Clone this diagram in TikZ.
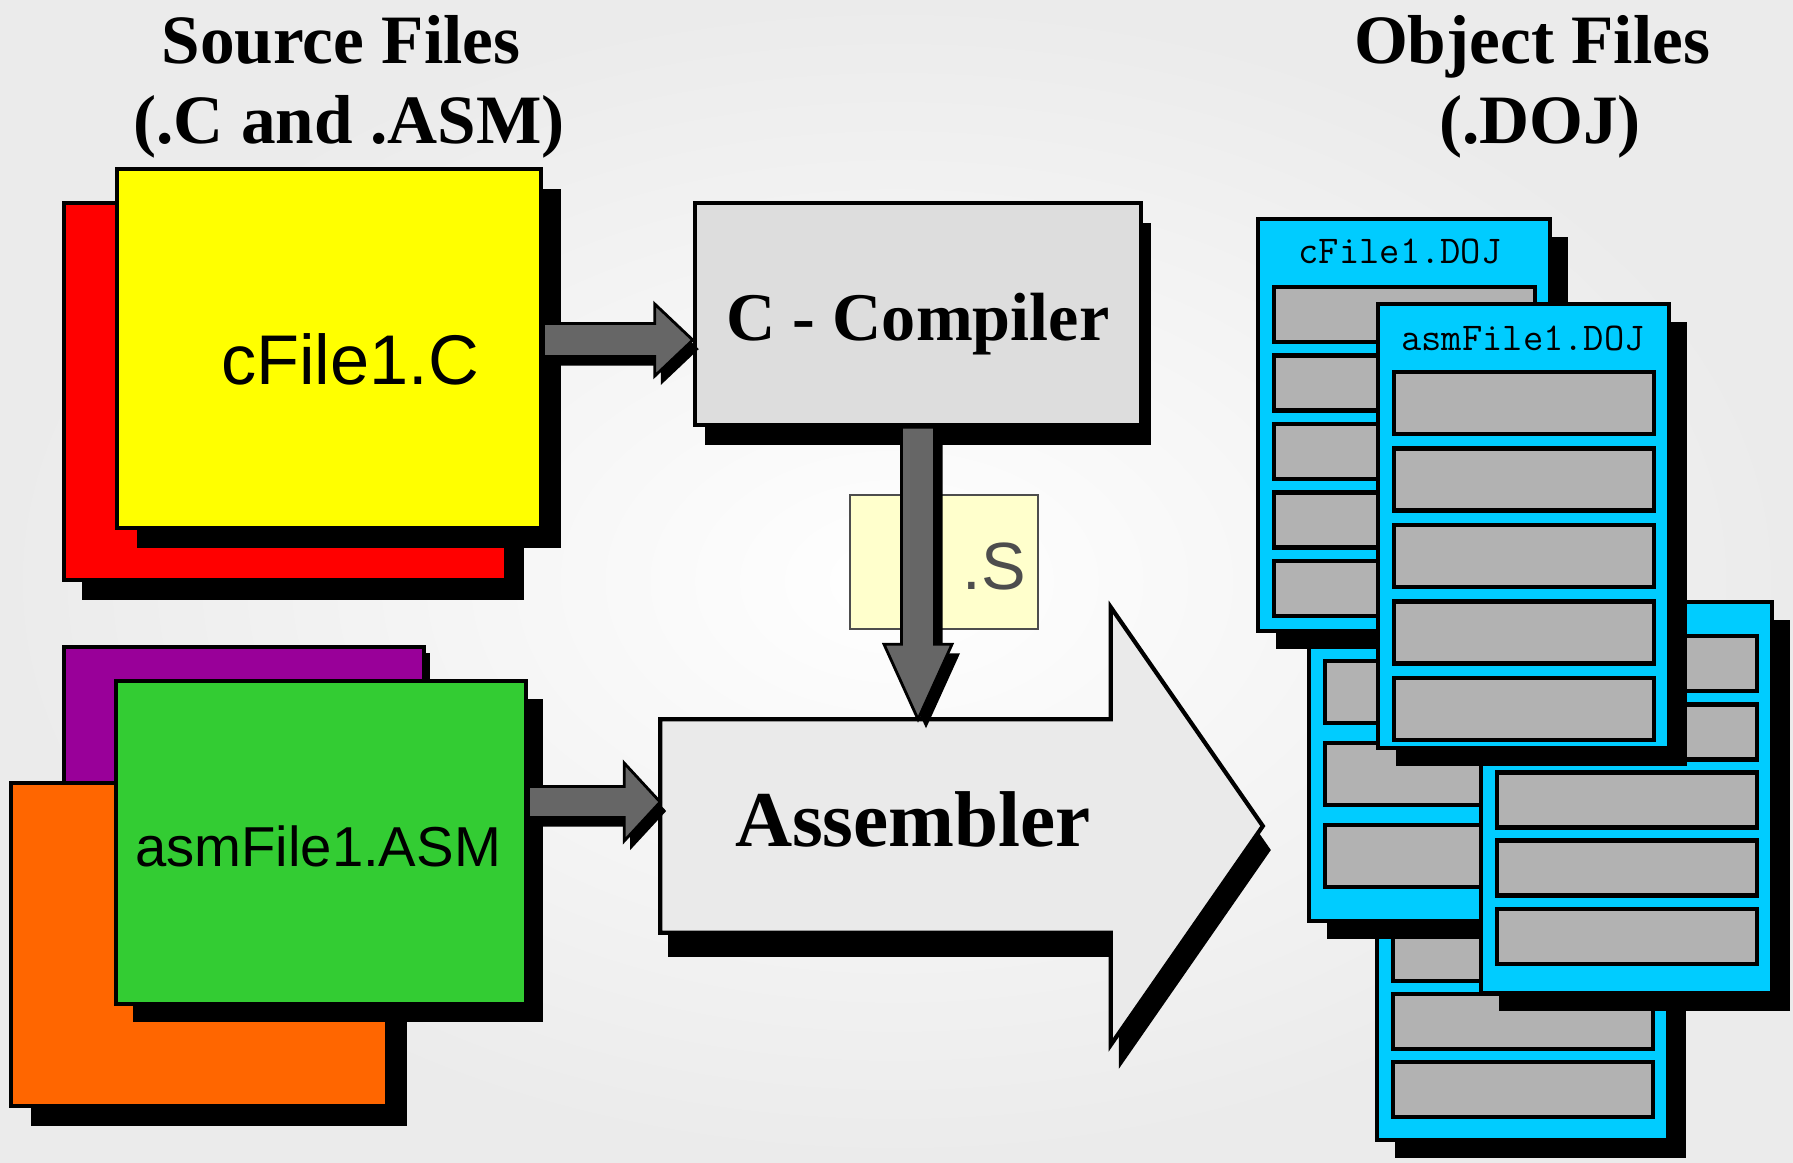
\documentclass[tikz,border=0pt]{standalone}
\usepackage{fontspec}
\setmainfont{Liberation Serif}
\setsansfont{Liberation Sans}
\usetikzlibrary{calc,shadows}

\definecolor{bggray}{HTML}{EBEBEB}
\definecolor{srcyellow}{HTML}{FFFF00}
\definecolor{srcred}{HTML}{FF0000}
\definecolor{srcpurple}{HTML}{990099}
\definecolor{srcorange}{HTML}{FF6600}
\definecolor{srcgreen}{HTML}{33CC33}
\definecolor{compgray}{HTML}{DDDDDD}
\definecolor{asmgray}{HTML}{EAEAEA}
\definecolor{arrowgray}{HTML}{666666}
\definecolor{sfill}{HTML}{FFFFCC}
\definecolor{stext}{HTML}{4D4D4D}
\definecolor{dojcyan}{HTML}{00CCFF}
\definecolor{bargray}{HTML}{B2B2B2}

\tikzset{
	castshadow/.style 2 args={drop shadow={shadow xshift=#1, shadow yshift=#2, opacity=1, fill=black}},
	srcbox/.style={draw=black, line width=1.3pt, inner sep=0pt},
	blockarrow/.style={fill=arrowgray, draw=black, line width=0.8pt, line join=miter},
	headtext/.style={anchor=base, font=\bfseries\fontsize{19.7}{23}\selectfont},
	dojpage/.style={fill=dojcyan, draw=black, line width=1.4pt, castshadow={0.18cm}{-0.18cm}},
	dojbar/.style={fill=bargray, draw=black, line width=1.4pt},
	dojtitle/.style={anchor=base, font=\ttfamily\fontsize{11.2}{13}\selectfont},
}

% tail, tip, half shaft, half head, head length
\newcommand\hblockarrow[6][]{%
	\filldraw[blockarrow,#1] ($(#2)+(0,-#4)$) -- ($(#3)+(-#6,-#4)$) -- ($(#3)+(-#6,-#5)$) -- (#3)
		-- ($(#3)+(-#6,#5)$) -- ($(#3)+(-#6,#4)$) -- ($(#2)+(0,#4)$) -- cycle;}
\newcommand\vblockarrow[6][]{%
	\filldraw[blockarrow,#1] ($(#2)+(-#4,0)$) -- ($(#3)+(-#4,-#6)$) -- ($(#3)+(-#5,-#6)$) -- (#3)
		-- ($(#3)+(#5,-#6)$) -- ($(#3)+(#4,-#6)$) -- ($(#2)+(#4,0)$) -- cycle;}

% name, left, top, right, bottom, first bar, bar pitch, bar height
\newcommand\dojpage[8]{%
	\filldraw[dojpage] (#2,#3) rectangle (#4,#5);
	\coordinate (#1) at ($(#2,#3)!0.5!(#4,#5)$);
	\foreach \k in {0,...,4}
		\filldraw[dojbar] (#2+16,#6+\k*#7) rectangle (#4-15,#6+\k*#7+#8);
}

\begin{document}
\begin{tikzpicture}[x=0.01cm, y=-0.01cm]
	% Background
	\shade[inner color=white, outer color=bggray] (0,0) rectangle (1793,1162);
	\useasboundingbox (0,0) rectangle (1793,1162);

	% Source files
	\node[srcbox, fill=srcred, castshadow={0.18cm}{-0.2cm}, minimum width=4.42cm, minimum height=3.77cm] (cred) at (285,391.5) {};
	\node[srcbox, fill=srcyellow, castshadow={0.2cm}{-0.2cm}, minimum width=4.24cm, minimum height=3.59cm] (cfile) at (329,348.5) {};
	\node[anchor=base, font=\sffamily\fontsize{20}{24}\selectfont] (cfilelbl) at (350,384) {cFile1.C};

	\node[srcbox, fill=srcpurple, castshadow={0.06cm}{-0.06cm}, minimum width=3.6cm, minimum height=2.33cm] (apurple) at (244,763.5) {};
	\node[srcbox, fill=srcorange, castshadow={0.2cm}{-0.2cm}, minimum width=3.76cm, minimum height=3.23cm] (aorange) at (199,944.5) {};
	\node[srcbox, fill=srcgreen, castshadow={0.17cm}{-0.18cm}, minimum width=4.1cm, minimum height=3.23cm] (asmfile) at (321,842.5) {};
	\node[anchor=base, font=\sffamily\fontsize{16}{19}\selectfont] (asmfilelbl) at (318,866) {asmFile1.ASM};

	% Compiler and its output
	\node[srcbox, line width=1.2pt, fill=compgray, castshadow={0.1cm}{-0.2cm}, minimum width=4.46cm, minimum height=2.22cm] (comp) at (918,314) {};
	\node[anchor=base, font=\bfseries\fontsize{19.4}{23}\selectfont] (complbl) at (918,340) {C - Compiler};

	\node[draw=stext, line width=0.6pt, fill=sfill, minimum width=1.88cm, minimum height=1.34cm] (sfile) at (944,562) {};
	\node[anchor=base, text=stext, font=\sffamily\fontsize{19}{23}\selectfont] (sfilelbl) at (994,589) {.S};

	% Assembler
	\node[inner sep=0pt, minimum width=4.49cm, minimum height=2.12cm] (asm) at (885.5,826) {};
	\filldraw[fill=asmgray, draw=black, line width=1.2pt, castshadow={0.08cm}{-0.24cm}]
		(asm.north west) -- (asm.north east) -- ++(0,-112) -- ($(asm.east)+(152,0)$)
		-- ($(asm.south east)+(0,112)$) -- (asm.south east) -- (asm.south west) -- cycle;
	\node[anchor=base, font=\bfseries\fontsize{22.5}{27}\selectfont] (asmlbl) at (913,846) {Assembler};

	% Connections
	\coordinate (c2comp-a) at (cfile.east |- 0,340);
	\coordinate (c2comp-b) at (comp.west |- 0,340);
	\hblockarrow[castshadow={0.06cm}{-0.09cm}]{c2comp-a}{c2comp-b}{16.5}{36}{38}
	\coordinate (comp2asm-a) at (comp.south);
	\coordinate (comp2asm-b) at (comp.south |- asm.north);
	\vblockarrow[castshadow={0.08cm}{-0.09cm}]{comp2asm-a}{comp2asm-b}{16.5}{34}{75}
	\coordinate (s2asm-a) at (asmfile.east |- 0,802);
	\coordinate (s2asm-b) at (asm.west |- 0,802);
	\hblockarrow[castshadow={0.06cm}{-0.09cm}]{s2asm-a}{s2asm-b}{15.5}{39}{36}

	% Object files
	\dojpage{dojd}{1377}{722}{1668}{1140}{790}{68}{55}
	\dojpage{dojc}{1309}{430}{1600}{921}{497}{82}{62}
	\dojpage{cdoj}{1258}{219}{1550}{631}{287}{68.5}{55}
	\node[dojtitle] (cdojlbl) at (1400,263) {cFile1.DOJ};
	\dojpage{doje}{1481}{602}{1772}{993}{636}{68.25}{55}
	\dojpage{asmdoj}{1378}{304}{1669}{748}{372}{76.5}{62}
	\node[dojtitle] (asmdojlbl) at (1523,350) {asmFile1.DOJ};

	% Headings
	\node[headtext] (srchead) at (341,63) {Source Files};
	\node[headtext] (srcsub) at (349,143) {(.C and .ASM)};
	\node[headtext] (objhead) at (1532,63) {Object Files};
	\node[headtext] (objsub) at (1540,143) {(.DOJ)};
\end{tikzpicture}
\end{document}
